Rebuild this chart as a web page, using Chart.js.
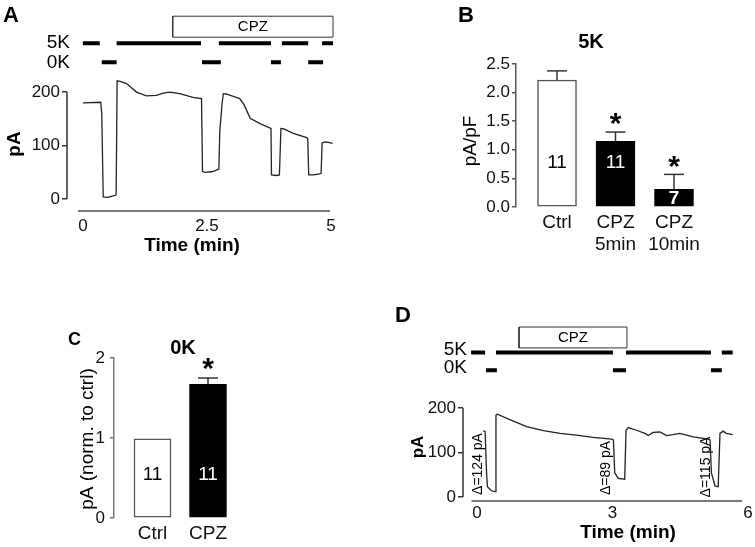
<!DOCTYPE html>
<html>
<head>
<meta charset="utf-8">
<script src="https://cdn.jsdelivr.net/npm/chart.js@4.4.0/dist/chart.umd.min.js"></script>
<style>
  body { margin: 0; background: #fff; }
  #wrap { position: relative; width: 755px; height: 547px; overflow: hidden; font-family: 'Liberation Sans', Arial, sans-serif; }
  canvas { position: absolute; }
  .lbl { position: absolute; font-weight: bold; line-height: 1; color: #000; }
</style>
</head>
<body>
<div id="wrap">
  <canvas id="cA" width="375" height="290" style="left:0;top:0"></canvas>
  <canvas id="cB" width="375" height="290" style="left:380px;top:0"></canvas>
  <canvas id="cC" width="260" height="247" style="left:0;top:300px"></canvas>
  <canvas id="cD" width="375" height="247" style="left:380px;top:300px"></canvas>
  <div class="lbl" style="left:3px;top:4px;font-size:22px">A</div>
  <div class="lbl" style="left:458px;top:4px;font-size:22px">B</div>
  <div class="lbl" style="left:68px;top:330px;font-size:18px">C</div>
  <div class="lbl" style="left:395px;top:304px;font-size:22px">D</div>
</div>
<script>
const FONT = "'Liberation Sans', Arial, sans-serif";

// Panel A: current trace (time in min, current in pA)
const timeA =    [0, 0.36, 0.38, 0.41, 0.5, 0.65, 0.67, 0.69, 0.75, 0.88, 1.08, 1.28, 1.48, 1.62, 1.75, 1.95, 2.22, 2.39, 2.41, 2.45, 2.6, 2.69, 2.74, 2.76, 2.78, 2.8, 2.83, 2.9, 3.03, 3.16, 3.25, 3.37, 3.57, 3.79, 3.8, 3.9, 3.96, 3.99, 4.05, 4.24, 4.51, 4.53, 4.55, 4.65, 4.77, 4.8, 4.82, 4.88, 4.95, 5.03];
const currentA = [180, 181, 160, 4, 3, 7, 8, 221, 220, 216, 200, 193, 194, 198, 200, 197, 190, 188, 52, 50, 51, 54, 56, 130, 150, 175, 197, 196, 192, 188, 176, 151, 141, 132, 45, 44, 45, 132, 131, 123, 115, 113, 45, 45, 47, 48, 105, 107, 106, 104];
const bath5K_A = [[0, 0.34], [0.68, 2.38], [2.74, 3.79], [4.01, 4.54], [4.82, 5.04]];
const bath0K_A = [[0.38, 0.68], [2.40, 2.78], [3.79, 3.99], [4.54, 4.84]];
const cpzA = [1.81, 5.04];
const xTicksA = [0, 2.5, 5];
const yTicksA = [0, 100, 200];

// Panel B: 5K current density
const catB = ['Ctrl', ['CPZ', '5min'], ['CPZ', '10min']];
const meanB = [2.22, 1.15, 0.31];
const semB = [0.16, 0.16, 0.26];
const nB = [11, 11, 7];
const sigB = [false, true, true];
const yTicksB = [0, 0.5, 1.0, 1.5, 2.0, 2.5];

// Panel C: 0K current normalised to control
const catC = ['Ctrl', 'CPZ'];
const meanC = [0.99, 1.67];
const semC = [null, 0.08];
const nC = [11, 11];
const sigC = [false, true];
const yTicksC = [0, 1, 2];

// Panel D: current trace
const timeD =    [0.14, 0.18, 0.21, 0.23, 0.32, 0.40, 0.42, 0.45, 0.7, 1.1, 1.47, 1.84, 2.2, 2.57, 2.98, 3.02, 3.05, 3.13, 3.27, 3.30, 3.35, 3.53, 3.72, 3.79, 3.9, 4.05, 4.2, 4.34, 4.49, 4.79, 5.12, 5.16, 5.19, 5.27, 5.34, 5.38, 5.45, 5.52, 5.66];
const currentD = [149, 147, 60, 23, 14, 12, 184, 186, 175, 158, 149, 143, 139, 134, 130, 128, 54, 42, 40, 150, 156, 150, 143, 138, 145, 146, 138, 140, 143, 135, 130, 128, 54, 25, 23, 143, 148, 143, 140];
const bath5K_D = [[-0.13, 0.18], [0.42, 3.01], [3.3, 5.18], [5.42, 5.66]];
const bath0K_D = [[0.2, 0.44], [3.01, 3.3], [5.18, 5.42]];
const cpzD = [0.93, 3.32];
const deltaD = ['Δ=124 pA', 'Δ=89 pA', 'Δ=115 pA'];
const xTicksD = [0, 3, 6];
const yTicksD = [0, 100, 200];

// draws extra lines and labels on top of a chart
const annot = {
  id: 'annot',
  afterDraw(chart, args, opts) {
    const ctx = chart.ctx;
    const xs = chart.scales.x, ys = chart.scales.y;
    const area = chart.chartArea;
    ctx.save();
    (opts.lines || []).forEach(l => {
      ctx.strokeStyle = l.color; ctx.lineWidth = l.width;
      const y1 = l.bottom ? area.bottom : ys.getPixelForValue(l.y1);
      const y2 = l.bottom ? area.bottom : ys.getPixelForValue(l.y2);
      ctx.beginPath();
      ctx.moveTo(xs.getPixelForValue(l.x1), y1);
      ctx.lineTo(xs.getPixelForValue(l.x2), y2);
      ctx.stroke();
    });
    (opts.texts || []).forEach(t => {
      const x = t.data ? xs.getPixelForValue(t.x) : t.x;
      const y = t.data ? ys.getPixelForValue(t.y) : t.y;
      ctx.font = (t.bold ? 'bold ' : '') + t.size + 'px ' + FONT;
      ctx.fillStyle = t.color || '#000';
      ctx.textAlign = t.align || 'center';
      ctx.textBaseline = 'middle';
      ctx.save();
      ctx.translate(x, y);
      if (t.rotate) ctx.rotate(-Math.PI / 2);
      ctx.fillText(t.text, 0, 0);
      ctx.restore();
    });
    ctx.restore();
  }
};

function solutionLine(segs, level) {
  const pts = [];
  segs.forEach(([a, b]) => pts.push({ x: a, y: level }, { x: b, y: level }, { x: b, y: null }));
  return pts;
}

function traceChart(id, c) {
  const thick = { borderColor: '#000', borderWidth: 4, pointRadius: 0, borderCapStyle: 'butt', spanGaps: false };
  return new Chart(document.getElementById(id), {
    type: 'line',
    data: {
      datasets: [
        { data: c.time.map((t, i) => ({ x: t, y: c.current[i] })), borderColor: '#222', borderWidth: 1.3, pointRadius: 0, tension: 0 },
        Object.assign({ data: solutionLine(c.k5, c.rowK5) }, thick),
        Object.assign({ data: solutionLine(c.k0, c.rowK0) }, thick),
        { data: [{ x: c.cpz[0], y: c.boxBot }, { x: c.cpz[1], y: c.boxBot }, { x: c.cpz[1], y: c.boxTop }, { x: c.cpz[0], y: c.boxTop }, { x: c.cpz[0], y: c.boxBot }],
          borderColor: '#333', borderWidth: 1, pointRadius: 0 }
      ]
    },
    options: {
      responsive: false, animation: false, events: [], devicePixelRatio: 1,
      layout: { padding: { top: c.padTop, right: c.padRight, left: 0, bottom: 0 } },
      scales: {
        x: {
          type: 'linear', min: c.xMin, max: c.xMax,
          afterBuildTicks: s => { s.ticks = c.xTicks.map(v => ({ value: v })); },
          afterFit: s => { s.height = c.xAxisH; },
          ticks: { font: { family: FONT, size: 17 }, color: '#111', padding: c.xTickPad, maxRotation: 0, autoSkip: false, callback: v => String(v) },
          grid: { display: false, drawTicks: false },
          border: { display: false }
        },
        y: {
          type: 'linear', min: c.yMin, max: c.yMax,
          afterBuildTicks: s => { s.ticks = c.yTicks.map(v => ({ value: v })); },
          afterFit: s => { s.width = c.yAxisW; },
          ticks: { font: { family: FONT, size: 17 }, color: '#111', padding: 2 },
          grid: { drawOnChartArea: false, tickLength: 5, color: '#333', lineWidth: 1.5 },
          border: { display: false }
        }
      },
      plugins: {
        legend: { display: false }, tooltip: { enabled: false },
        annot: {
          lines: [
            { x1: c.xMin, y1: 0, x2: c.xMin, y2: 200, color: '#333', width: 1.5 },
            { x1: c.axisFrom, x2: c.axisTo, bottom: true, color: '#7a7a7a', width: 2 }
          ],
          texts: [
            { text: 'CPZ', data: true, x: (c.cpz[0] + c.cpz[1]) / 2, y: (c.boxTop + c.boxBot) / 2, size: 15 },
            { text: '5K', x: c.rowLabelX, y: c.k5LabelY, size: 19, align: 'right' },
            { text: '0K', x: c.rowLabelX, y: c.k0LabelY, size: 19, align: 'right' },
            { text: 'pA', x: c.yTitle.x, y: c.yTitle.y, size: c.yTitle.size, bold: true, rotate: true },
            { text: 'Time (min)', x: c.xTitle.x, y: c.xTitle.y, size: 19, bold: true }
          ].concat(c.extra || [])
        }
      }
    },
    plugins: [annot]
  });
}

function barChart(id, c) {
  const texts = [
    { text: c.title.text, x: c.title.x, y: c.title.y, size: 20, bold: true },
    { text: c.yTitle.text, x: c.yTitle.x, y: c.yTitle.y, size: 19, rotate: true }
  ];
  const lines = [];
  c.means.forEach((m, i) => {
    const dark = c.fills[i] === '#000';
    texts.push({ text: String(c.ns[i]), data: true, x: i + 1, y: c.nY[i], size: 19, bold: c.nBold[i], color: dark ? '#fff' : '#000' });
    if (c.sems[i]) {
      const top = m + c.sems[i];
      lines.push({ x1: i + 1, y1: m, x2: i + 1, y2: top, color: '#333', width: 1.5 });
      lines.push({ x1: i + 1 - c.cap, y1: top, x2: i + 1 + c.cap, y2: top, color: '#333', width: 1.5 });
      if (c.sig[i]) texts.push({ text: '*', data: true, x: i + 1, y: top + c.starOff, size: 30, bold: true });
    }
  });
  return new Chart(document.getElementById(id), {
    type: 'bar',
    data: {
      datasets: [{
        data: c.means.map((m, i) => ({ x: i + 1, y: m })),
        backgroundColor: c.fills, borderColor: c.borders, borderWidth: 1.5,
        borderSkipped: false, barThickness: c.barW
      }]
    },
    options: {
      responsive: false, animation: false, events: [], devicePixelRatio: 1,
      layout: { padding: { top: c.padTop, right: c.padRight, left: 0, bottom: 0 } },
      scales: {
        x: {
          type: 'linear', min: c.xMin, max: c.xMax, offset: false,
          afterBuildTicks: s => { s.ticks = c.cats.map((_, i) => ({ value: i + 1 })); },
          afterFit: s => { s.height = c.xAxisH; },
          ticks: { font: { family: FONT, size: 19, lineHeight: 1.2 }, color: '#111', padding: 4, maxRotation: 0, autoSkip: false, callback: v => c.cats[v - 1] },
          grid: { display: false, drawTicks: false },
          border: { display: false }
        },
        y: {
          type: 'linear', min: 0, max: c.yMax,
          afterBuildTicks: s => { s.ticks = c.yTicks.map(v => ({ value: v })); },
          afterFit: s => { s.width = c.yAxisW; },
          ticks: { font: { family: FONT, size: 17 }, color: '#111', padding: c.tickPad, callback: v => v.toFixed(c.decimals) },
          grid: { drawOnChartArea: false, tickLength: 4, color: c.axisColor, lineWidth: 1.5 },
          border: { color: c.axisColor, width: 1.5 }
        }
      },
      plugins: { legend: { display: false }, tooltip: { enabled: false }, annot: { lines, texts } }
    },
    plugins: [annot]
  });
}

traceChart('cA', {
  time: timeA, current: currentA, k5: bath5K_A, k0: bath0K_A, cpz: cpzA,
  xMin: -0.32, xMax: 5.1, xTicks: xTicksA, axisFrom: -0.1, axisTo: 4.98, xTickPad: 5,
  yMin: -22.4, yMax: 349.5, yTicks: yTicksA,
  rowK5: 291.6, rowK0: 256, boxTop: 342, boxBot: 302.8,
  yAxisW: 67, xAxisH: 79, padTop: 12, padRight: 39,
  rowLabelX: 70, k5LabelY: 43, k0LabelY: 62.5,
  yTitle: { x: 15, y: 144, size: 19 }, xTitle: { x: 192, y: 246 }
});

barChart('cB', {
  cats: catB, means: meanB, sems: semB, ns: nB, sig: sigB, yTicks: yTicksB,
  nY: [0.77, 0.77, 0.14], nBold: [false, false, true],
  fills: ['#fff', '#000', '#000'], borders: ['#555', '#000', '#000'],
  xMin: 0.299, xMax: 3.5, yMax: 2.5, decimals: 1,
  yAxisW: 136, xAxisH: 83, padTop: 64, padRight: 51.75, barW: 39, cap: 0.17, starOff: 0.12,
  axisColor: '#555', tickPad: 2,
  title: { text: '5K', x: 211, y: 42 }, yTitle: { text: 'pA/pF', x: 91, y: 141 }
});

barChart('cC', {
  cats: catC, means: meanC, sems: semC, ns: nC, sig: sigC, yTicks: yTicksC,
  nY: [0.54, 0.54], nBold: [false, false],
  fills: ['#fff', '#000'], borders: ['#555', '#000'],
  xMin: 0.3063, xMax: 2.5, yMax: 2, decimals: 0,
  yAxisW: 114, xAxisH: 29, padTop: 58, padRight: 24.25, barW: 37, cap: 0.18, starOff: 0.1,
  axisColor: '#777', tickPad: 5,
  title: { text: '0K', x: 183, y: 48 }, yTitle: { text: 'pA (norm. to ctrl)', x: 88, y: 139 }
});

traceChart('cD', {
  time: timeD, current: currentD, k5: bath5K_D, k0: bath0K_D, cpz: cpzD,
  xMin: -0.31, xMax: 6, xTicks: xTicksD, axisFrom: -0.12, axisTo: 5.87, xTickPad: 2,
  yMin: -9, yMax: 400, yTicks: yTicksD,
  rowK5: 324.7, rowK0: 285, boxTop: 382, boxBot: 335,
  yAxisW: 83, xAxisH: 46, padTop: 19, padRight: 7,
  rowLabelX: 87, k5LabelY: 50, k0LabelY: 68,
  yTitle: { x: 38, y: 147, size: 17 }, xTitle: { x: 248, y: 233 },
  extra: [
    { text: deltaD[0], x: 98, y: 164, size: 14, rotate: true },
    { text: deltaD[1], x: 226, y: 168, size: 14, rotate: true },
    { text: deltaD[2], x: 326, y: 167, size: 14, rotate: true }
  ]
});
</script>
</body>
</html>
